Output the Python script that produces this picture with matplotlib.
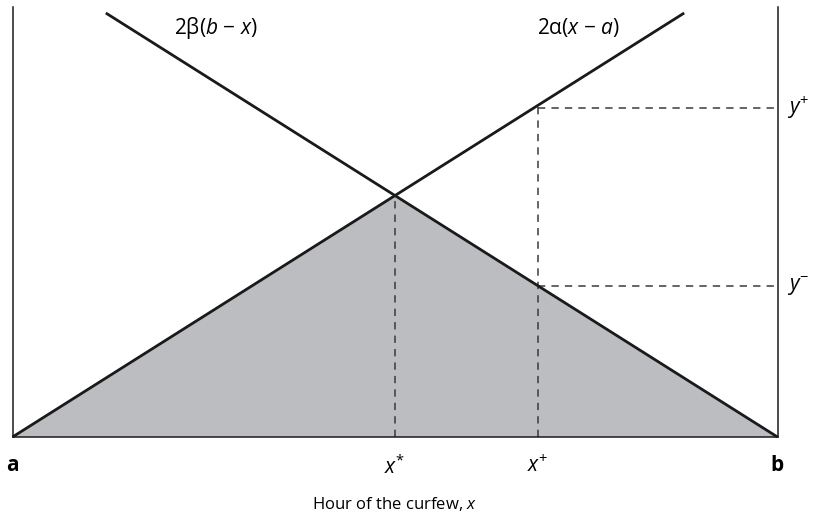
import matplotlib
matplotlib.use("Agg")
import matplotlib.pyplot as plt

plt.rcParams["font.family"] = ["Open Sans", "DejaVu Sans"]
plt.rcParams["mathtext.fontset"] = "custom"
plt.rcParams["mathtext.rm"] = "Open Sans"
plt.rcParams["mathtext.it"] = "Open Sans:italic"
plt.rcParams["mathtext.bf"] = "Open Sans:bold"

# Curfew interval [a, b] on a unit scale
a_pos, b_pos = 0.0, 1.0

# Rising marginal line 2α(x − a): endpoints
rise_x = [0.0, 0.878]
rise_y = [0.0, 0.986]

# Falling marginal line 2β(b − x): endpoints
fall_x = [0.122, 1.0]
fall_y = [0.986, 0.0]

# Optimum and alternative curfew hours
x_star, y_star = 0.5, 0.563
x_plus = 0.687
y_plus, y_minus = 0.765, 0.351

tick_pos = [a_pos, x_star, x_plus, b_pos]
tick_labels = [r"$\mathbf{a}$", r"$x^{*}$", r"$x^{+}$", r"$\mathbf{b}$"]

fig = plt.figure(figsize=(8.14, 5.16), dpi=100)
ax = fig.add_axes([12.5 / 814, 79 / 516, 765 / 814, 430 / 516])
ax.set_xlim(0, 1)
ax.set_ylim(0, 1)

# Shaded triangle under the lower envelope
ax.fill([a_pos, x_star, b_pos], [0, y_star, 0], color="#bcbdc0", lw=0, zorder=1)

dash_kw = dict(color="#3a3a3a", lw=1.1, dashes=(4.8, 4.0), zorder=2, clip_on=False)
ax.plot([x_star, x_star], [0, y_star], **dash_kw)
ax.plot([x_plus, x_plus], [0, y_plus + 0.005], **dash_kw)
ax.plot([x_plus, b_pos], [y_plus, y_plus], **dash_kw)
ax.plot([x_plus, b_pos], [y_minus, y_minus], **dash_kw)

line_kw = dict(color="#1a1a1a", lw=2.0, solid_capstyle="butt", zorder=3, clip_on=False)
ax.plot(rise_x, rise_y, **line_kw)
ax.plot(fall_x, fall_y, **line_kw)

for side in ("left", "right", "bottom"):
    ax.spines[side].set_linewidth(1.1)
    ax.spines[side].set_color("#1a1a1a")
ax.spines["top"].set_visible(False)

ax.set_yticks([])
ax.set_xticks(tick_pos)
ax.set_xticklabels(tick_labels, fontsize=15)
ax.tick_params(axis="x", length=0, pad=13)
ax.set_xlabel(r"Hour of the curfew, $x$", fontsize=12, labelpad=12)

ax.text(0.265, 0.952, r"2β($b$ − $x$)", fontsize=15, ha="center", va="center")
ax.text(0.74, 0.952, r"2α($x$ − $a$)", fontsize=15, ha="center", va="center")

ax.text(1.012, y_plus, r"$y^{+}$", fontsize=15, ha="left", va="center", clip_on=False)
ax.text(1.012, y_minus, r"$y^{-}$", fontsize=15, ha="left", va="center", clip_on=False)

fig.savefig("out.png", dpi=100)
